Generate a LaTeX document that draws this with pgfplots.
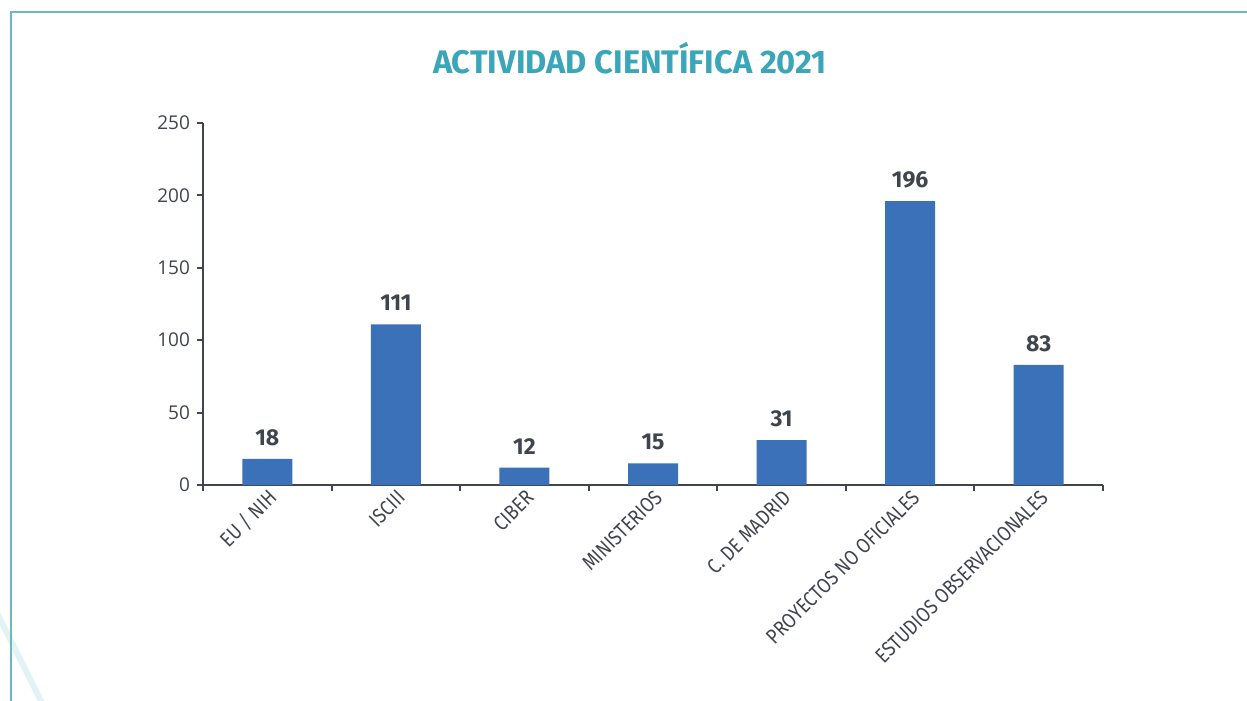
\documentclass[border=0pt]{standalone}
\usepackage{fontspec}
\setmainfont{Fira Sans}
\newfontfamily\condfont[FakeStretch=0.85]{Fira Sans}
\newfontfamily\tickfont{Open Sans}
\usepackage{pgfplots}
\pgfplotsset{compat=1.18}
\definecolor{barblue}{RGB}{59,113,185}
\definecolor{axisgray}{RGB}{64,69,77}
\definecolor{titleteal}{RGB}{58,166,185}
\definecolor{frameteal}{RGB}{107,184,196}
\definecolor{faint}{RGB}{226,243,245}
\begin{document}
\begin{tikzpicture}[x=1pt,y=1pt]
\useasboundingbox (-101.5,-108) rectangle (522,242.5);
\draw[faint, line width=3pt] (-103,-64) -- (-80.5,-109);
\draw[frameteal, line width=0.8pt] (523,236.5) -- (-96,236.5) -- (-96,-109);
\node[font=\bfseries\fontsize{16.3}{18}\selectfont, text=titleteal] at (213.5,213.5) {ACTIVIDAD CIENTÍFICA 2021};
\begin{axis}[
  at={(0,0)}, anchor=south west,
  scale only axis, width=450pt, height=181pt,
  xmin=-0.5, xmax=6.5, ymin=0, ymax=250,
  axis lines=left,
  axis line style={-, axisgray, line width=1pt},
  every tick/.style={axisgray, line width=1pt},
  tick align=outside,
  xtick={0,1,2,3,4,5,6},
  xticklabels={EU / NIH, ISCIII, CIBER, MINISTERIOS, C. DE MADRID, PROYECTOS NO OFICIALES, ESTUDIOS OBSERVACIONALES},
  major x tick style={draw=none},
  minor xtick={-0.5,0.5,1.5,2.5,3.5,4.5,5.5,6.5},
  minor tick length=3pt,
  major tick length=3pt,
  x tick label style={rotate=45, anchor=east, font=\condfont\fontsize{10.5}{12}\selectfont, text=axisgray, inner sep=1pt, xshift=2pt, yshift=-3pt},
  ytick={0,50,100,150,200,250},
  y tick label style={font=\tickfont\fontsize{9.5}{11}\selectfont, text=axisgray},
  /pgf/number format/assume math mode=true,
  ybar, bar width=25pt,
  nodes near coords,
  nodes near coords style={font=\bfseries\fontsize{11.5}{13}\selectfont, text=axisgray, inner sep=0pt, anchor=south, yshift=6.5pt},
]
\addplot[fill=barblue, draw=none] coordinates {(0,18) (1,111) (2,12) (3,15) (4,31) (5,196) (6,83)};
\end{axis}
\end{tikzpicture}
\end{document}
